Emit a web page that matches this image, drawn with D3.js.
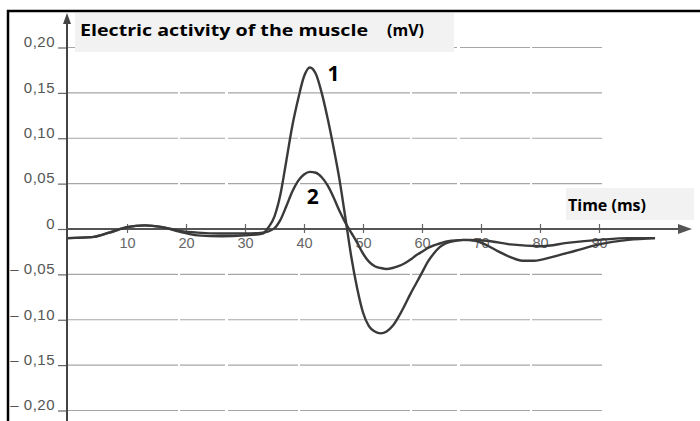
<!DOCTYPE html>
<html>
<head>
<meta charset="utf-8">
<script src="https://cdn.jsdelivr.net/npm/d3@7"></script>
<style>
  html, body { margin: 0; padding: 0; background: #fff; }
  svg { display: block; }
</style>
</head>
<body>
<svg id="chart" width="700" height="421"></svg>
<script>
// ---- data ----
const yTicks = [-0.20, -0.15, -0.10, -0.05, 0, 0.05, 0.10, 0.15, 0.20];
const yTickLabels = ["– 0,20", "– 0,15", "– 0,10", "– 0,05", "0", "0,05", "0,10", "0,15", "0,20"];
const xTicks = [10, 20, 30, 40, 50, 60, 70, 80, 90];
const xTickLabels = ["10", "20", "30", "40", "50", "60", "70", "80", "90"];

const time1 = [0, 4, 7, 10, 13, 16, 19, 22, 26, 30, 33, 34, 35, 36, 37, 38, 39, 40, 41, 42, 43, 44, 45, 46, 47, 48, 49, 50, 51, 52, 53, 54, 55, 56, 57, 58, 59, 60, 61, 62, 63, 64, 65, 67, 69, 71, 73, 75, 77, 79, 82, 86, 90, 95, 99.5];
const volt1 = [-0.010, -0.009, -0.004, 0.002, 0.004, 0.002, -0.003, -0.007, -0.008, -0.007, -0.005, 0.002, 0.014, 0.038, 0.075, 0.113, 0.143, 0.168, 0.178, 0.171, 0.150, 0.122, 0.090, 0.055, 0.013, -0.030, -0.065, -0.092, -0.107, -0.113, -0.115, -0.113, -0.107, -0.097, -0.085, -0.072, -0.060, -0.048, -0.036, -0.027, -0.020, -0.016, -0.014, -0.012, -0.013, -0.018, -0.025, -0.031, -0.035, -0.035, -0.031, -0.024, -0.017, -0.012, -0.010];

const time2 = [0, 4, 7, 10, 13, 16, 19, 22, 26, 30, 33, 35, 36, 37, 38, 39, 40, 41, 42, 43, 44, 45, 46, 47, 48, 49, 50, 51, 52, 53, 54, 55, 56, 57, 58, 59, 60, 61, 62, 63, 64, 65, 68, 71, 75, 80, 85, 90, 95, 99.5];
const volt2 = [-0.010, -0.009, -0.004, 0.002, 0.004, 0.002, -0.002, -0.004, -0.005, -0.005, -0.004, 0.001, 0.010, 0.025, 0.041, 0.053, 0.060, 0.063, 0.062, 0.057, 0.048, 0.035, 0.020, 0.007, -0.004, -0.015, -0.027, -0.036, -0.041, -0.043, -0.044, -0.043, -0.041, -0.038, -0.034, -0.029, -0.025, -0.021, -0.018, -0.016, -0.014, -0.013, -0.012, -0.013, -0.017, -0.019, -0.015, -0.012, -0.010, -0.010];

const seriesNames = ["1", "2"];

// ---- drawing ----
const svg = d3.select("#chart");
const x = d3.scaleLinear().domain([0, 100]).range([68, 658]);
const y = d3.scaleLinear().domain([-0.2, 0.2]).range([410.5, 47.5]);

// frame (top and left)
svg.append("path").attr("d", "M8,421 L8,11 L700,11")
  .attr("fill", "none").attr("stroke", "#000").attr("stroke-width", 2.5);

// gridlines
const gridVals = yTicks.filter(v => v !== 0);
svg.append("g").selectAll("line").data(gridVals).join("line")
  .attr("x1", x(0)).attr("x2", 602)
  .attr("y1", d => y(d)).attr("y2", d => y(d))
  .attr("stroke", "#a6a6a6").attr("stroke-width", 1.2)
  .attr("stroke-dasharray", "110,2,45,3,70,2");

// y axis with ticks
const yAxis = d3.axisLeft(y).tickValues(yTicks)
  .tickFormat((d, i) => yTickLabels[i]).tickSize(9).tickPadding(3);
const gy = svg.append("g").attr("transform", `translate(${x(0) - 1},0)`).call(yAxis);
gy.select(".domain").remove();
gy.selectAll(".tick line").attr("stroke", "#666").attr("stroke-width", 1.2);
gy.selectAll(".tick text")
  .attr("font-family", "Liberation Sans, Arial, sans-serif")
  .attr("font-size", 15).attr("fill", "#555")
  .attr("dy", "-0.05em").attr("letter-spacing", "0.5px");

// x axis ticks & labels
const xAxis = d3.axisBottom(x).tickValues(xTicks)
  .tickFormat((d, i) => xTickLabels[i]).tickSize(0).tickPadding(0);
const gx = svg.append("g").attr("transform", `translate(0,${y(0)})`).call(xAxis);
gx.select(".domain").remove();
gx.selectAll(".tick line").attr("y1", -5).attr("y2", 4).attr("stroke", "#666").attr("stroke-width", 1.2);
gx.selectAll(".tick text")
  .attr("font-family", "Liberation Sans, Arial, sans-serif")
  .attr("font-size", 14.5).attr("fill", "#666")
  .attr("y", 9).attr("dy", "0.71em");

// axis lines with arrows
svg.append("line").attr("x1", x(0) - 1).attr("x2", x(0) - 1).attr("y1", 421).attr("y2", 20)
  .attr("stroke", "#444").attr("stroke-width", 2);
svg.append("path").attr("d", `M${x(0) - 1},13 L${x(0) - 5},24 L${x(0) + 3},24 Z`).attr("fill", "#444");
svg.append("line").attr("x1", x(0) - 1).attr("x2", 682).attr("y1", y(0)).attr("y2", y(0))
  .attr("stroke", "#555").attr("stroke-width", 1.8);
svg.append("path").attr("d", `M692,${y(0)} L678,${y(0) - 5} L678,${y(0) + 5} Z`).attr("fill", "#555");

// curves
const line = d3.line().x(d => x(d[0])).y(d => y(d[1])).curve(d3.curveMonotoneX);
const data1 = time1.map((t, i) => [t, volt1[i]]);
const data2 = time2.map((t, i) => [t, volt2[i]]);
[data1, data2].forEach(d => {
  svg.append("path").datum(d).attr("d", line)
    .attr("fill", "none").attr("stroke", "#3a3a3a").attr("stroke-width", 2.4)
    .attr("stroke-linejoin", "round");
});

// title box
svg.append("rect").attr("x", 75).attr("y", 13).attr("width", 379).attr("height", 39).attr("fill", "#f2f2f2");
const tFont = "'Open Sans', Lato, sans-serif";
svg.append("text").attr("x", 80).attr("y", 36)
  .attr("font-family", tFont).attr("font-weight", "bold").attr("font-size", 16)
  .attr("textLength", 288).attr("lengthAdjust", "spacingAndGlyphs")
  .text("Electric activity of the muscle");
svg.append("text").attr("x", 387).attr("y", 36)
  .attr("font-family", tFont).attr("font-weight", "bold").attr("font-size", 16)
  .text("(mV)");

// time box
svg.append("rect").attr("x", 566).attr("y", 188).attr("width", 128).attr("height", 32).attr("fill", "#f2f2f2");
svg.append("text").attr("x", 568).attr("y", 211)
  .attr("font-family", tFont).attr("font-weight", "bold").attr("font-size", 16)
  .text("Time (ms)");

// series labels
const labelPos = [[45, 0.163], [41.5, 0.027]];
svg.append("g").selectAll("text").data(seriesNames).join("text")
  .attr("x", (d, i) => x(labelPos[i][0]))
  .attr("y", (d, i) => y(labelPos[i][1]))
  .attr("font-family", tFont).attr("font-weight", "bold").attr("font-size", 21)
  .attr("text-anchor", "middle")
  .text(d => d);
</script>
</body>
</html>
